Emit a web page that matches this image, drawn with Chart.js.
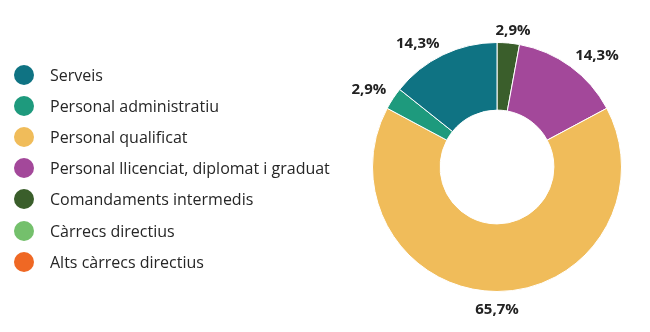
<!DOCTYPE html>
<html>
<head>
<meta charset="utf-8">
<script src="https://cdn.jsdelivr.net/npm/chart.js@4"></script>
<style>
  html, body { margin: 0; padding: 0; background: #fff; }
  #wrap { position: relative; width: 650px; height: 332px; }
  #chart { position: absolute; left: 0; top: 0; }
  #legend { position: absolute; left: 14px; top: 59px; margin: 0; padding: 0; list-style: none;
            font-family: 'Open Sans', sans-serif; font-size: 16px; color: #262626; }
  #legend li { height: 31.2px; display: flex; align-items: center; white-space: nowrap; }
  #legend .dot { width: 20px; height: 20px; border-radius: 50%; margin-right: 16px; flex: none; }
</style>
</head>
<body>
<div id="wrap">
  <canvas id="chart" width="650" height="332"></canvas>
  <ul id="legend"></ul>
</div>
<script>
// --- DATA ---
const categories = [
  'Serveis',
  'Personal administratiu',
  'Personal qualificat',
  'Personal llicenciat, diplomat i graduat',
  'Comandaments intermedis',
  'Càrrecs directius',
  'Alts càrrecs directius'
];
const shares = [14.3, 2.9, 65.7, 14.3, 2.9, 0, 0];
const colors = ['#0f7383', '#1e9a7d', '#f0bc5a', '#a3489a', '#3a5e2b', '#74c06c', '#ef6824'];

// legend on the left, in the original order
const legendEl = document.getElementById('legend');
legendEl.innerHTML = categories.map((c, i) =>
  `<li><span class="dot" style="background:${colors[i]}"></span>${c}</li>`).join('');

// slices run clockwise from the top in reverse legend order
const order = categories.map((_, i) => i).reverse();

// percentage labels just outside each non-empty slice
const pctLabels = {
  id: 'pctLabels',
  afterDatasetsDraw(chart) {
    const { ctx } = chart;
    const meta = chart.getDatasetMeta(0);
    const values = chart.data.datasets[0].data;
    ctx.save();
    ctx.font = 'bold 15px "Open Sans", sans-serif';
    ctx.fillStyle = '#222';
    ctx.textAlign = 'center';
    ctx.textBaseline = 'middle';
    meta.data.forEach((arc, i) => {
      const v = values[i];
      if (!v) return;
      const a = (arc.startAngle + arc.endAngle) / 2;
      const dx = Math.cos(a), dy = Math.sin(a);
      const text = v.toFixed(1).replace('.', ',') + '%';
      const hw = ctx.measureText(text).width / 2;
      const hh = 7;
      const r = arc.outerRadius + 8;
      // push the text off the ring by its own half size
      const ox = Math.sign(dx) * Math.min(1, Math.abs(dx) * 2.5) * hw;
      const oy = Math.sign(dy) * Math.min(1, Math.abs(dy) * 2.5) * hh;
      ctx.fillText(text, arc.x + r * dx + ox, arc.y + r * dy + oy + 3);
    });
    ctx.restore();
  }
};

new Chart(document.getElementById('chart'), {
  type: 'doughnut',
  data: {
    labels: order.map(i => categories[i]),
    datasets: [{
      data: order.map(i => shares[i]),
      backgroundColor: order.map(i => colors[i]),
      borderColor: '#ffffff',
      borderWidth: 1
    }]
  },
  options: {
    responsive: false,
    animation: false,
    cutout: '45.7%',
    layout: { padding: { left: 372, right: 28, top: 42, bottom: 40 } },
    plugins: { legend: { display: false }, tooltip: { enabled: false } }
  },
  plugins: [pctLabels]
});
</script>
</body>
</html>
